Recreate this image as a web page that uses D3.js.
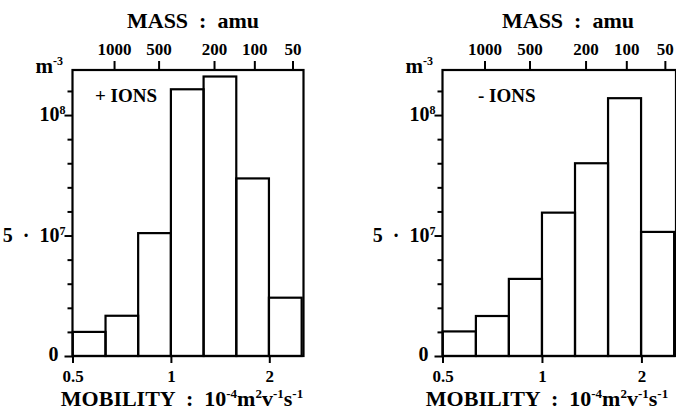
<!DOCTYPE html>
<html>
<head>
<meta charset="utf-8">
<script src="https://cdn.jsdelivr.net/npm/d3@7"></script>
<style>
  html, body { margin: 0; padding: 0; background: #fff; }
  svg { display: block; }
  svg text { font-family: 'Liberation Serif', 'Times New Roman', Tinos, serif !important; font-weight: 700; }
</style>
</head>
<body>
<svg id="chart" width="676" height="411" style="font-family:'Liberation Serif','Times New Roman',serif"></svg>
<script>
// ---- data ----
const binEdges = [0.501, 0.631, 0.794, 1.0, 1.259, 1.585, 1.995, 2.512];   // mobility, 1e-4 m2/(V s)
const positiveIons = [1.0e7, 1.67e7, 5.1e7, 1.107e8, 1.16e8, 7.37e7, 2.42e7]; // m^-3
const negativeIons = [1.02e7, 1.66e7, 3.2e7, 5.95e7, 8.0e7, 1.07e8, 5.15e7];  // m^-3
const mobilityTicks = [0.5, 1, 2];
const mobilityTickLabels = ["0.5", "1", "2"];
const massTickLabels = ["1000", "500", "200", "100", "50"];
const massTickMobility = [0.67, 0.917, 1.355, 1.80, 2.355];
const yMajorTicks = [0, 5e7, 1e8];
const yMinorTicks = [1e7, 2e7, 3e7, 4e7, 6e7, 7e7, 8e7, 9e7, 1.1e8];
const panelLabels = ["+ IONS", "- IONS"];

const FONT = "'Liberation Serif', 'Times New Roman', serif";
const svg = d3.select("#chart");

const panels = [
  { values: positiveIons, label: panelLabels[0], x0: 72.5, x1: 303.5, massX: 193, mobX: 182, labX: 95 },
  { values: negativeIons, label: panelLabels[1], x0: 442.5, x1: 676, massX: 568, mobX: 547, labX: 478 }
];

const yTop = 70, yBot = 356;
const y = d3.scaleLinear().domain([0, 1.187e8]).range([yBot, yTop]);

panels.forEach(p => {
  const g = svg.append("g");
  const x = d3.scaleLog().domain([0.5, 2.545]).range([p.x0, p.x1]);

  // bars
  const bins = p.values.map((v, i) => ({ lo: binEdges[i], hi: binEdges[i + 1], v }));
  g.selectAll("rect.bar").data(bins).enter().append("rect")
    .attr("class", "bar")
    .attr("x", d => x(d.lo))
    .attr("width", d => x(d.hi) - x(d.lo))
    .attr("y", d => y(d.v))
    .attr("height", d => y(0) - y(d.v))
    .attr("fill", "none")
    .attr("stroke", "#000")
    .attr("stroke-width", 2.2);

  // frame
  g.append("rect")
    .attr("x", p.x0).attr("y", yTop)
    .attr("width", p.x1 - p.x0).attr("height", yBot - yTop)
    .attr("fill", "none").attr("stroke", "#000").attr("stroke-width", 2.2);

  // bottom axis
  const bottom = g.append("g").attr("transform", `translate(0,${yBot})`)
    .call(d3.axisBottom(x).tickValues(mobilityTicks).tickSize(7).tickSizeOuter(0)
      .tickFormat((d, i) => mobilityTickLabels[i]));
  bottom.select(".domain").remove();
  bottom.selectAll("line").attr("stroke-width", 2);
  bottom.selectAll("text").attr("font-size", 17).attr("dy", null).attr("y", 26);

  // top axis (mass)
  const xm = d3.scaleOrdinal().domain(massTickLabels).range(massTickMobility.map(m => x(m)));
  const top = g.append("g").attr("transform", `translate(0,${yTop})`)
    .call(d3.axisTop(xm).tickSize(9).tickSizeOuter(0));
  top.select(".domain").remove();
  top.selectAll("line").attr("stroke-width", 2);
  top.selectAll("text").attr("font-size", 17).attr("y", -15);

  // left axis
  const left = g.append("g").attr("transform", `translate(${p.x0},0)`)
    .call(d3.axisLeft(y).tickValues(yMinorTicks).tickSize(5).tickFormat(""));
  left.select(".domain").remove();
  left.selectAll("line").attr("stroke-width", 2);
  const leftMaj = g.append("g").attr("transform", `translate(${p.x0},0)`)
    .call(d3.axisLeft(y).tickValues(yMajorTicks).tickSize(8).tickFormat(""));
  leftMaj.select(".domain").remove();
  leftMaj.selectAll("line").attr("stroke-width", 2);

  // y tick labels
  const yl = g.append("g").attr("font-size", 20).attr("text-anchor", "end");
  yl.append("text").attr("x", p.x0 - 14).attr("y", y(0) + 5).text("0");
  const t5 = yl.append("text").attr("x", p.x0 - 7).attr("y", y(5e7) + 6).style("white-space", "pre");
  t5.append("tspan").text("5  ·  10");
  t5.append("tspan").attr("font-size", 12).attr("dy", -7).text("7");
  const t8 = yl.append("text").attr("x", p.x0 - 7).attr("y", y(1e8) + 6);
  t8.append("tspan").text("10");
  t8.append("tspan").attr("font-size", 12).attr("dy", -7).text("8");

  // unit m^-3
  const mu = g.append("text").attr("x", p.x0 - 37).attr("y", yTop + 3).attr("font-size", 21);
  mu.append("tspan").text("m");
  mu.append("tspan").attr("font-size", 12).attr("dy", -8).text("-3");

  // titles
  g.append("text").attr("x", p.massX).attr("y", 28).attr("text-anchor", "middle")
    .attr("font-size", 22).style("white-space", "pre").text("MASS  :  amu");
  const mob = g.append("text").attr("x", p.mobX).attr("y", 406).attr("text-anchor", "middle")
    .attr("font-size", 22).style("white-space", "pre");
  mob.append("tspan").text("MOBILITY  :  10");
  mob.append("tspan").attr("font-size", 13).attr("dy", -8).text("-4");
  mob.append("tspan").attr("dy", 8).text("m");
  mob.append("tspan").attr("font-size", 13).attr("dy", -8).text("2");
  mob.append("tspan").attr("dy", 8).text("v");
  mob.append("tspan").attr("font-size", 13).attr("dy", -8).text("-1");
  mob.append("tspan").attr("dy", 8).text("s");
  mob.append("tspan").attr("font-size", 13).attr("dy", -8).text("-1");

  // panel label
  g.append("text").attr("x", p.labX).attr("y", yTop + 32)
    .attr("font-size", 19).text(p.label);
});

svg.selectAll("g").attr("font-family", null);
svg.selectAll("text")
  .attr("font-family", "Liberation Serif")
  .style("font-family", FONT)
  .style("font-weight", "700")
  .attr("fill", "#000");
</script>
</body>
</html>
